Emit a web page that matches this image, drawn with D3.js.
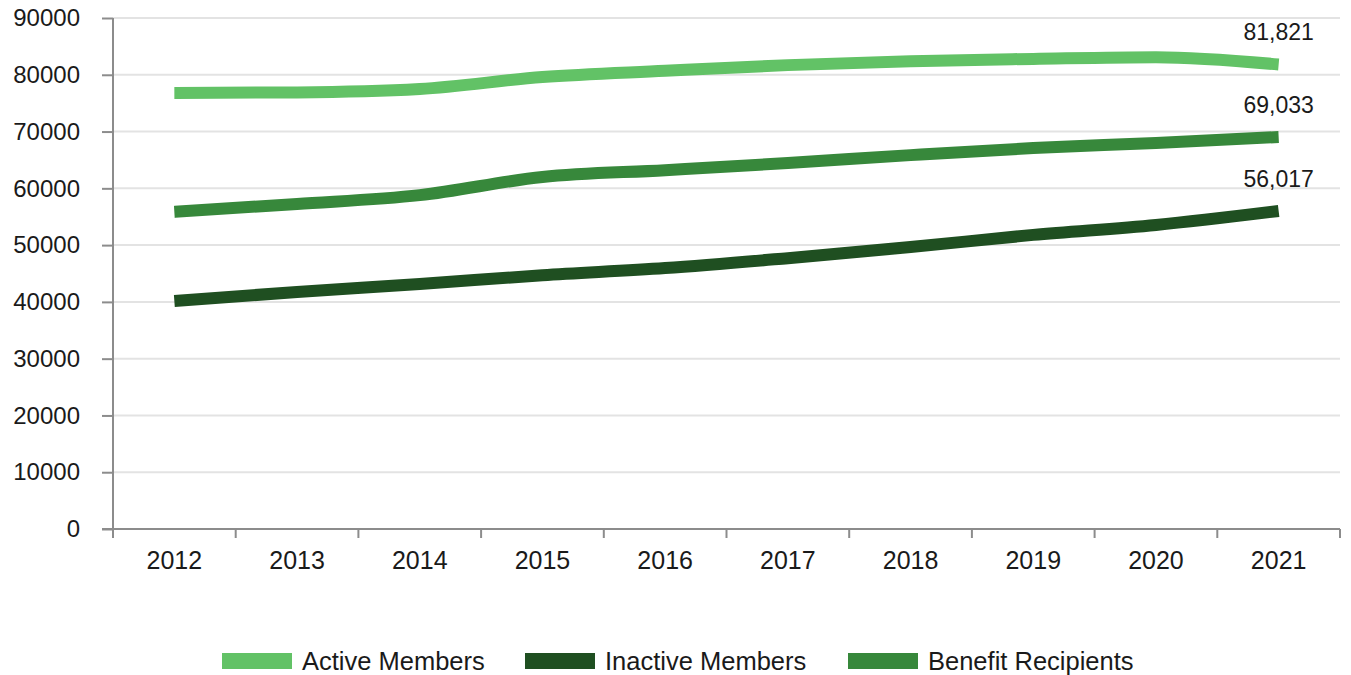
<!DOCTYPE html>
<html>
<head>
<meta charset="utf-8">
<script src="https://cdn.jsdelivr.net/npm/d3@7"></script>
<style>
  body { margin: 0; background: #fff; }
  svg text { font-family: "Liberation Sans", Arial, sans-serif; fill: #1a1a1a; }
</style>
</head>
<body>
<div id="chart"></div>
<script>
// chart values
const years = ['2012', '2013', '2014', '2015', '2016', '2017', '2018', '2019', '2020', '2021'];
const activeMembers = [76800, 76900, 77500, 79600, 80700, 81700, 82400, 82800, 83100, 81821];
const inactiveMembers = [40150, 41750, 43150, 44700, 45950, 47700, 49650, 51800, 53550, 56017];
const benefitRecipients = [55850, 57250, 58800, 62000, 63200, 64450, 65850, 67100, 68000, 69033];
const yTicks = [0, 10000, 20000, 30000, 40000, 50000, 60000, 70000, 80000, 90000];

const light_green = '#62c266';
const dark_green = '#1f4f21';
const mid_green = '#37883b';

const series = [
    { name: 'Active Members', values: activeMembers, color: light_green },
    { name: 'Inactive Members', values: inactiveMembers, color: dark_green },
    { name: 'Benefit Recipients', values: benefitRecipients, color: mid_green }
];

const W = 1351, H = 675;
const margin = { top: 18, right: 11, bottom: 146, left: 113 };
const width = W - margin.left - margin.right;
const height = H - margin.top - margin.bottom;

const svg = d3.select('#chart')
    .append('svg')
    .attr('width', W)
    .attr('height', H)
    .append('g')
    .attr('transform', `translate(${margin.left}, ${margin.top})`);

const xScale = d3.scaleBand().domain(years).range([0, width]);
const yScale = d3.scaleLinear().domain([0, 90000]).range([height, 0]);

// gridlines
svg.append('g')
    .selectAll('line')
    .data(yTicks.filter(d => d > 0))
    .enter()
    .append('line')
    .attr('x1', 0)
    .attr('x2', width)
    .attr('y1', d => yScale(d))
    .attr('y2', d => yScale(d))
    .attr('stroke', '#e3e3e3')
    .attr('stroke-width', 2);

// y axis
const yAxis = svg.append('g')
    .call(d3.axisLeft(yScale).tickValues(yTicks).tickFormat(d => d).tickSize(11).tickSizeOuter(0).tickPadding(22));
yAxis.select('.domain').attr('stroke', '#8c8c8c').attr('stroke-width', 2)
    .attr('d', `M0,0V${height + 9}`);
yAxis.selectAll('.tick line').attr('stroke', '#8c8c8c').attr('stroke-width', 2);
yAxis.selectAll('.tick text').style('font-size', '24px').attr('fill', '#1a1a1a');

// x axis
const xAxis = svg.append('g')
    .attr('transform', `translate(0, ${height})`)
    .call(d3.axisBottom(xScale).tickSize(0).tickPadding(22));
xAxis.select('.domain').attr('stroke', '#8c8c8c').attr('stroke-width', 2)
    .attr('d', `M-11,0H${width}`);
xAxis.selectAll('.tick text').style('font-size', '25px').attr('fill', '#1a1a1a');
xAxis.selectAll('.boundary')
    .data(years)
    .enter()
    .append('line')
    .attr('class', 'boundary')
    .attr('x1', (d, i) => xScale.step() * (i + 1))
    .attr('x2', (d, i) => xScale.step() * (i + 1))
    .attr('y1', 0)
    .attr('y2', 9)
    .attr('stroke', '#8c8c8c')
    .attr('stroke-width', 2);

// lines
const line = d3.line()
    .x((d, i) => xScale(years[i]) + xScale.bandwidth() / 2)
    .y(d => yScale(d))
    .curve(d3.curveMonotoneX);

series.forEach(s => {
    svg.append('path')
        .datum(s.values)
        .style('fill', 'none')
        .attr('stroke', s.color)
        .attr('stroke-width', 12)
        .attr('d', line);
});

// end labels
const last = years.length - 1;
series.forEach(s => {
    svg.append('text')
        .attr('x', xScale(years[last]) + xScale.bandwidth() / 2)
        .attr('y', yScale(s.values[last]) - 24)
        .attr('text-anchor', 'middle')
        .style('font-size', '23px')
        .text(d3.format(',')(s.values[last]));
});

// legend
const legendX = [222, 525, 848];
const legend = d3.select('svg')
    .selectAll('.legend')
    .data(series)
    .enter()
    .append('g')
    .attr('class', 'legend')
    .attr('transform', (d, i) => `translate(${legendX[i]}, 661)`);
legend.append('rect')
    .attr('x', 0)
    .attr('y', -8)
    .attr('width', 70)
    .attr('height', 16)
    .attr('fill', d => d.color);
legend.append('text')
    .attr('x', 80)
    .attr('y', 9)
    .style('font-size', '25.5px')
    .text(d => d.name);
</script>
</body>
</html>
